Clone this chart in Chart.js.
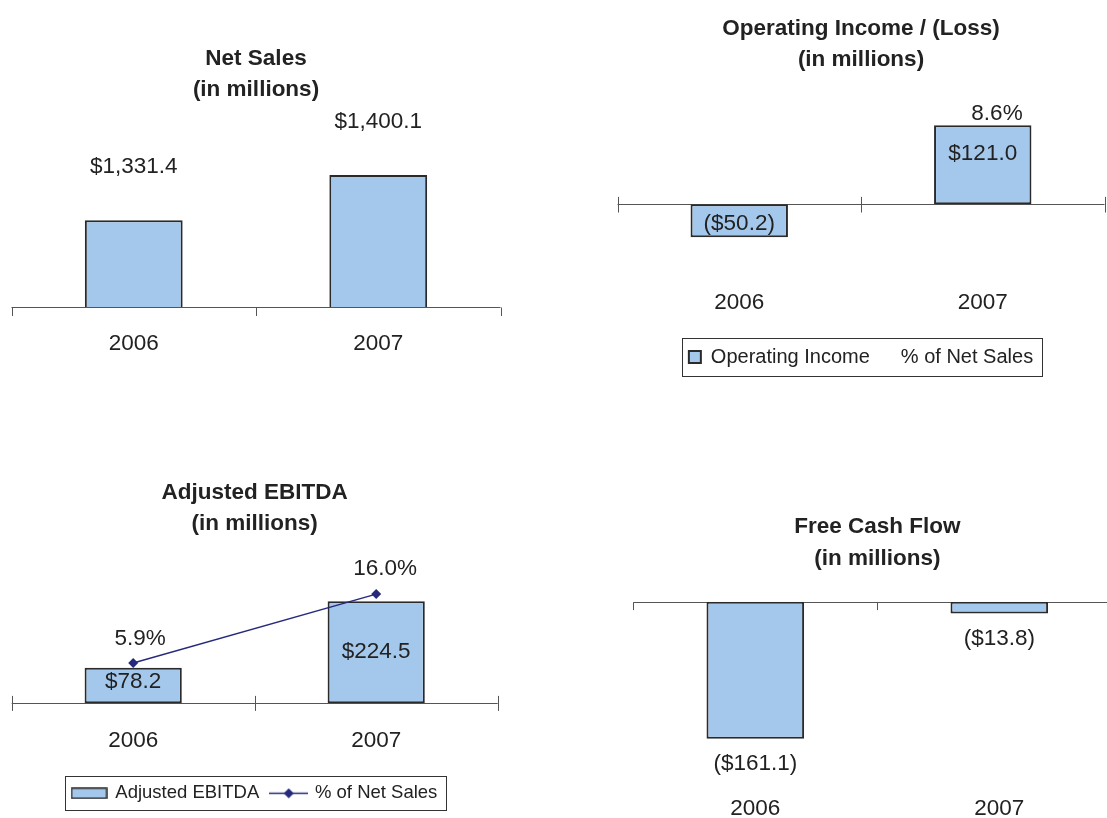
<!DOCTYPE html>
<html>
<head>
<meta charset="utf-8">
<title>Net Sales, Operating Income, Adjusted EBITDA, Free Cash Flow</title>
<script src="https://cdn.jsdelivr.net/npm/chart.js@4.4.1/dist/chart.umd.min.js"></script>
<style>
  html, body { margin: 0; padding: 0; background: #fff; overflow: hidden; }
  body { width: 1107px; height: 818px; position: relative; }
  canvas { position: absolute; }
</style>
</head>
<body>
<canvas id="netSales" width="512" height="370" style="left:0;top:0"></canvas>
<canvas id="opIncome" width="510" height="390" style="left:606px;top:0"></canvas>
<canvas id="ebitda" width="510" height="378" style="left:0;top:440px"></canvas>
<canvas id="fcf" width="510" height="348" style="left:622px;top:470px"></canvas>
<script>
// Four small 2006 / 2007 panels

const YEARS = ['2006', '2007'];
const NET_SALES = [1331.4, 1400.1];
const OPERATING_INCOME = [-50.2, 121.0];
const OPERATING_PCT = [null, 8.6];
const EBITDA = [78.2, 224.5];
const EBITDA_PCT = [5.9, 16.0];
const FREE_CASH_FLOW = [-161.1, -13.8];

const FONT = '"Liberation Sans", Arial, Helvetica, sans-serif';
const TEXT = '#222222';
const BAR_FILL = '#a4c8ec';
const BAR_EDGE = '#2a2a2a';
const LINE = '#262a7c';
const AXIS = '#555555';
const SIZE = 22.5;

Chart.defaults.font.family = FONT;
Chart.defaults.color = TEXT;

function money(v) {
    const s = Math.abs(v).toLocaleString('en-US', { minimumFractionDigits: 1, maximumFractionDigits: 1 });
    return v < 0 ? '($' + s + ')' : '$' + s;
}

function pct(v) {
    return v.toFixed(1) + '%';
}

// axis line through the base value, with short ticks at the category boundaries
function baseAxis(value, up, down) {
    return {
        id: 'baseAxis',
        beforeDatasetsDraw(chart) {
            const { ctx, chartArea } = chart;
            const xs = chart.scales.x;
            const y = Math.round(chart.scales.y.getPixelForValue(value)) + 0.5;
            const half = (xs.getPixelForValue(1) - xs.getPixelForValue(0)) / 2;
            ctx.save();
            ctx.strokeStyle = AXIS;
            ctx.lineWidth = 1;
            ctx.beginPath();
            ctx.moveTo(chartArea.left, y);
            ctx.lineTo(chartArea.right, y);
            for (let i = 0; i <= xs.ticks.length; i++) {
                const x = Math.round(xs.getPixelForValue(i) - half) + 0.5;
                ctx.moveTo(x, y - up);
                ctx.lineTo(x, y + down);
            }
            ctx.stroke();
            ctx.restore();
        }
    };
}

// text labels next to bars and points
function valueLabels(sets) {
    return {
        id: 'valueLabels',
        afterDatasetsDraw(chart) {
            const ctx = chart.ctx;
            ctx.save();
            ctx.font = SIZE + 'px ' + FONT;
            ctx.fillStyle = TEXT;
            ctx.textAlign = 'center';
            ctx.textBaseline = 'middle';
            sets.forEach((set, di) => {
                if (!set) return;
                const meta = chart.getDatasetMeta(di);
                const values = chart.data.datasets[di].data;
                meta.data.forEach((el, i) => {
                    const v = values[i];
                    if (v === null || v === undefined) return;
                    const p = set.place[i];
                    const y = p.anchor === 'center' ? (el.y + el.base) / 2 : el.y;
                    ctx.fillText(set.format(v), el.x + (p.dx || 0), y + (p.dy || 0));
                });
            });
            ctx.restore();
        }
    };
}

// thin frame round the legend items
function legendFrame(padLeft, padRight, padY) {
    return {
        id: 'legendFrame',
        afterDraw(chart) {
            const boxes = chart.legend && chart.legend.legendHitBoxes;
            if (!boxes || !boxes.length) return;
            const first = boxes[0];
            const last = boxes[boxes.length - 1];
            const l = Math.round(first.left - padLeft) + 0.5;
            const r = Math.round(last.left + last.width + padRight) + 0.5;
            const t = Math.round(first.top - padY) + 0.5;
            const b = Math.round(first.top + first.height + padY) + 0.5;
            const ctx = chart.ctx;
            ctx.save();
            ctx.strokeStyle = '#333333';
            ctx.lineWidth = 1;
            ctx.strokeRect(l, t, r - l, b - t);
            ctx.restore();
        }
    };
}

function barIcon() {
    const c = document.createElement('canvas');
    c.width = 37;
    c.height = 12;
    const g = c.getContext('2d');
    g.fillStyle = BAR_FILL;
    g.fillRect(1, 1, 35, 10);
    g.strokeStyle = BAR_EDGE;
    g.lineWidth = 1.5;
    g.strokeRect(1, 1, 35, 10);
    return c;
}

function lineIcon() {
    const c = document.createElement('canvas');
    c.width = 39;
    c.height = 11;
    const g = c.getContext('2d');
    g.strokeStyle = LINE;
    g.lineWidth = 1.5;
    g.beginPath();
    g.moveTo(0, 5.5);
    g.lineTo(39, 5.5);
    g.stroke();
    g.fillStyle = LINE;
    g.beginPath();
    g.moveTo(19.5, 0.5);
    g.lineTo(24.5, 5.5);
    g.lineTo(19.5, 10.5);
    g.lineTo(14.5, 5.5);
    g.closePath();
    g.fill();
    return c;
}

function barSet(label, data, extra) {
    return Object.assign({
        type: 'bar',
        label: label,
        data: data,
        backgroundColor: BAR_FILL,
        borderColor: BAR_EDGE,
        borderWidth: 2,
        borderSkipped: false,
        categoryPercentage: 1,
        barPercentage: 0.4
    }, extra || {});
}

function xAxis(height, padding) {
    return {
        type: 'category',
        offset: true,
        grid: { display: false, drawTicks: false },
        border: { display: false },
        ticks: { padding: padding, font: { size: SIZE }, color: TEXT, maxRotation: 0, autoSkip: false },
        afterFit(scale) { scale.height = height; }
    };
}

function baseOptions(o) {
    return {
        responsive: false,
        animation: false,
        events: [],
        layout: { padding: o.padding },
        scales: o.scales,
        plugins: {
            title: {
                display: true,
                text: o.title,
                color: TEXT,
                font: { size: SIZE, weight: 'bold', lineHeight: '31.5px' },
                padding: o.titlePad
            },
            legend: o.legend || { display: false },
            tooltip: { enabled: false }
        }
    };
}

// Net Sales
new Chart(document.getElementById('netSales'), {
    type: 'bar',
    data: { labels: YEARS, datasets: [barSet('Net Sales', NET_SALES)] },
    options: baseOptions({
        padding: { left: 11.5, right: 11.5, top: 0, bottom: 0 },
        title: ['Net Sales', '(in millions)'],
        titlePad: { top: 43, bottom: 3 },
        scales: {
            x: xAxis(63, 23.7),
            y: { display: false, min: 1200, max: 1500 }
        }
    }),
    plugins: [
        baseAxis(1200, 0, 8.5),
        valueLabels([{ format: money, place: [{ anchor: 'end', dy: -53 }, { anchor: 'end', dy: -53 }] }])
    ]
});

// Operating Income / (Loss)
new Chart(document.getElementById('opIncome'), {
    type: 'bar',
    data: {
        labels: YEARS,
        datasets: [
            barSet('Operating Income', OPERATING_INCOME),
            {
                type: 'line',
                label: '% of Net Sales',
                data: OPERATING_PCT,
                yAxisID: 'y2',
                showLine: false,
                pointRadius: 0,
                borderColor: 'rgba(0,0,0,0)',
                backgroundColor: 'rgba(0,0,0,0)'
            }
        ]
    },
    options: baseOptions({
        padding: { left: 11.5, right: 11.5, top: 0, bottom: 13 },
        title: ['Operating Income / (Loss)', '(in millions)'],
        titlePad: { top: 12.75, bottom: 4.25 },
        scales: {
            x: xAxis(78, 29),
            y: { display: false, min: -85, max: 190 },
            y2: { display: false, position: 'right', min: -12, max: 20 }
        },
        legend: {
            display: true,
            position: 'bottom',
            labels: { color: TEXT, font: { size: 20 }, boxWidth: 12, boxHeight: 12, padding: 9 }
        }
    }),
    plugins: [
        baseAxis(0, 7.6, 8),
        valueLabels([
            { format: money, place: [{ anchor: 'center', dy: 3 }, { anchor: 'end', dy: 29 }] },
            { format: pct, place: [null, { anchor: 'end', dx: 14.25, dy: -30.6 }] }
        ]),
        legendFrame(7, 9, 9)
    ]
});

// Adjusted EBITDA
const EBITDA_ICONS = [barIcon(), lineIcon()];
new Chart(document.getElementById('ebitda'), {
    type: 'bar',
    data: {
        labels: YEARS,
        datasets: [
            barSet('Adjusted EBITDA', EBITDA, { order: 1 }),
            {
                type: 'line',
                label: '% of Net Sales',
                data: EBITDA_PCT,
                yAxisID: 'y2',
                order: 0,
                borderColor: LINE,
                backgroundColor: LINE,
                borderWidth: 1.5,
                tension: 0,
                pointStyle: 'rectRot',
                pointRadius: 5,
                pointBorderWidth: 0,
                pointBackgroundColor: LINE
            }
        ]
    },
    options: baseOptions({
        padding: { left: 11.7, right: 12.3, top: 0, bottom: 5.45 },
        title: ['Adjusted EBITDA', '(in millions)'],
        titlePad: { top: 37, bottom: 26.8 },
        scales: {
            x: xAxis(68.25, 23.8),
            y: { display: false, min: 0, max: 300 },
            y2: { display: false, position: 'right', min: 0, max: 20 }
        },
        legend: {
            display: true,
            position: 'bottom',
            labels: {
                color: TEXT,
                font: { size: 18.5 },
                usePointStyle: true,
                pointStyleWidth: 34,
                padding: 12.5,
                generateLabels(chart) {
                    const items = Chart.defaults.plugins.legend.labels.generateLabels(chart);
                    items.forEach(it => { it.pointStyle = EBITDA_ICONS[it.datasetIndex]; });
                    return items;
                },
                sort: (a, b) => a.datasetIndex - b.datasetIndex
            }
        }
    }),
    plugins: [
        baseAxis(0, 7.6, 7.4),
        valueLabels([
            { format: money, place: [{ anchor: 'center', dy: -4 }, { anchor: 'center', dy: 0 }] },
            { format: pct, place: [{ anchor: 'end', dx: 7, dy: -24 }, { anchor: 'end', dx: 9, dy: -25 }] }
        ]),
        legendFrame(7, 9, 7.75)
    ]
});

// Free Cash Flow
new Chart(document.getElementById('fcf'), {
    type: 'bar',
    data: { labels: YEARS, datasets: [barSet('Free Cash Flow', FREE_CASH_FLOW)] },
    options: baseOptions({
        padding: { left: 11.3, right: 10.7, top: 0, bottom: 0 },
        title: ['Free Cash Flow', '(in millions)'],
        titlePad: { top: 41.25, bottom: 27.45 },
        scales: {
            x: xAxis(46.3, 23.8),
            y: { display: false, min: -200, max: 0 }
        }
    }),
    plugins: [
        baseAxis(0, 0, 7.6),
        valueLabels([{ format: money, place: [{ anchor: 'end', dy: 25 }, { anchor: 'end', dy: 25 }] }])
    ]
});
</script>
</body>
</html>
